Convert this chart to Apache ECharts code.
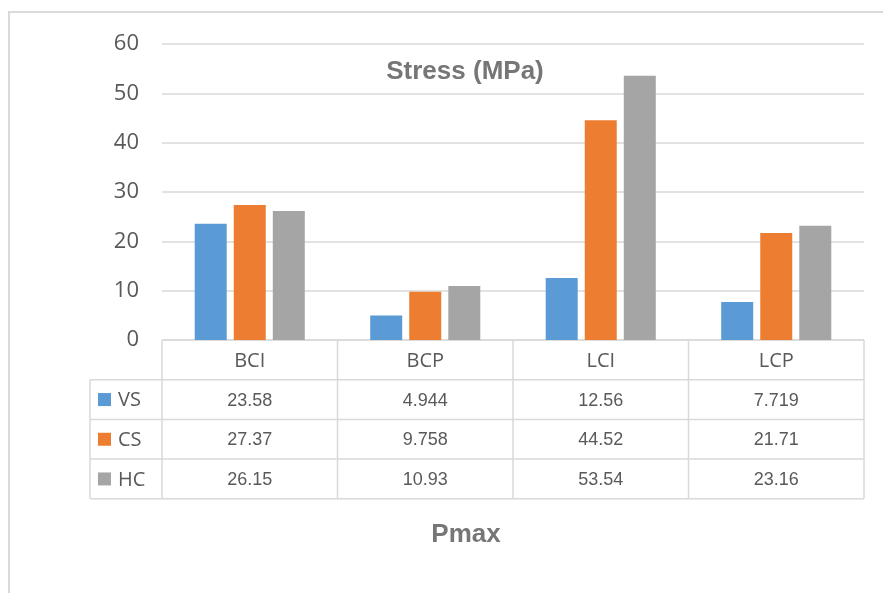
<!DOCTYPE html>
<html><head><meta charset="utf-8">
<script src="https://cdn.jsdelivr.net/npm/echarts@6/dist/echarts.min.js"></script>
<style>html,body{margin:0;padding:0;background:#fff}#c{width:883px;height:593px}</style>
</head><body><div id="c"></div>
<script>
const categories = ['BCI', 'BCP', 'LCI', 'LCP'];
const seriesNames = ['VS', 'CS', 'HC'];
const vsValues = [23.58, 4.944, 12.56, 7.719];
const csValues = [27.37, 9.758, 44.52, 21.71];
const hcValues = [26.15, 10.93, 53.54, 23.16];
const yTicks = [0, 10, 20, 30, 40, 50, 60];
const colors = ['#5b9bd5', '#ed7d31', '#a5a5a5'];
const allValues = [vsValues, csValues, hcValues];

const chart = echarts.init(document.getElementById('c'), null, {renderer: 'canvas'});
const gridLeft = 162, gridRight = 19, gridTop = 44, gridBottom = 253;
const option = {
  animation: false,
  title: {
    text: 'Stress (MPa)', left: 460, top: 54, textAlign: 'center',
    textStyle: {fontFamily: 'Liberation Sans', fontWeight: 'bold', fontSize: 26, color: '#767676'}
  },
  grid: {left: gridLeft, right: gridRight, top: gridTop, bottom: gridBottom},
  xAxis: {
    type: 'category', data: categories,
    axisLine: {show: false}, axisTick: {show: false}, axisLabel: {show: false}
  },
  yAxis: {
    type: 'value', min: yTicks[0], max: yTicks[yTicks.length - 1], interval: 10,
    axisLine: {show: false}, axisTick: {show: false},
    axisLabel: {fontSize: 22, color: '#595959', margin: 23, fontFamily: 'Open Sans'},
    splitLine: {lineStyle: {color: '#d9d9d9', width: 1.5}}
  },
  series: seriesNames.map((n, i) => ({
    name: n, type: 'bar', data: allValues[i], barWidth: 32, barGap: '22%',
    itemStyle: {color: colors[i]}
  }))
};
chart.setOption(option);

// build data table from axis positions
const centers = categories.map(c => chart.convertToPixel({xAxisIndex: 0}, c));
const catW = centers.length > 1 ? centers[1] - centers[0] : 175;
const x0 = centers[0] - catW / 2;
const xEnd = centers[centers.length - 1] + catW / 2;
const y0 = chart.convertToPixel({yAxisIndex: 0}, 0);
const rowH = 39.7;
const headerLeft = 90;
const lineStyle = {stroke: '#d9d9d9', lineWidth: 1.5};
const g = [];
g.push({type: 'line', shape: {x1: x0, y1: y0, x2: xEnd, y2: y0}, style: lineStyle, silent: true});
for (let r = 1; r <= 4; r++) {
  const y = y0 + r * rowH;
  g.push({type: 'line', shape: {x1: headerLeft, y1: y, x2: xEnd, y2: y}, style: lineStyle, silent: true});
}
g.push({type: 'line', shape: {x1: headerLeft, y1: y0 + rowH, x2: headerLeft, y2: y0 + 4 * rowH}, style: lineStyle, silent: true});
for (let i = 0; i <= categories.length; i++) {
  const x = x0 + i * catW;
  g.push({type: 'line', shape: {x1: x, y1: y0, x2: x, y2: y0 + 4 * rowH}, style: lineStyle, silent: true});
}
categories.forEach((c, i) => {
  g.push({type: 'text', x: centers[i], y: y0 + rowH / 2 + 1, silent: true,
    style: {text: c, fill: '#595959', fontSize: 20, fontFamily: 'Open Sans', align: 'center', verticalAlign: 'middle'}});
});
seriesNames.forEach((n, r) => {
  const yc = y0 + (r + 1.5) * rowH;
  g.push({type: 'rect', shape: {x: 98, y: yc - 6.5, width: 13, height: 13}, style: {fill: colors[r]}, silent: true});
  g.push({type: 'text', x: 118, y: yc + 1, silent: true,
    style: {text: n, fill: '#595959', fontSize: 20, fontFamily: 'Open Sans', align: 'left', verticalAlign: 'middle'}});
  allValues[r].forEach((v, i) => {
    g.push({type: 'text', x: centers[i], y: yc + 1, silent: true,
      style: {text: String(v), fill: '#595959', fontSize: 18, fontFamily: 'Liberation Sans', align: 'center', verticalAlign: 'middle'}});
  });
});
g.push({type: 'text', x: 466, y: 535, silent: true,
  style: {text: 'Pmax', fill: '#767676', fontSize: 26, fontWeight: 'bold', fontFamily: 'Liberation Sans', align: 'center', verticalAlign: 'middle'}});
g.push({type: 'polyline', shape: {points: [[9, 593], [9, 12], [883, 12]]}, style: {stroke: '#d9d9d9', lineWidth: 2, fill: null}, silent: true});
chart.setOption({graphic: g});
</script>
</body></html>
